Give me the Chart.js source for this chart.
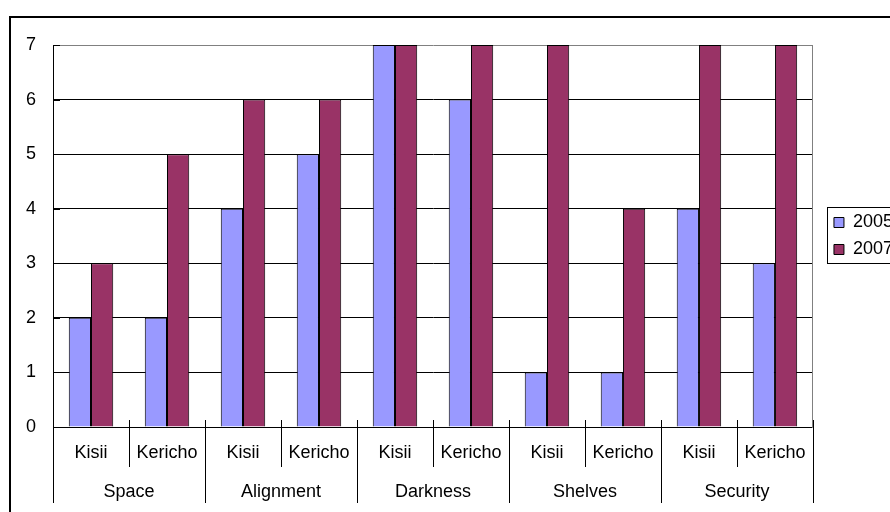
<!DOCTYPE html>
<html><head><meta charset="utf-8">
<script src="https://cdn.jsdelivr.net/npm/chart.js@4"></script>
<style>
html,body{margin:0;padding:0;overflow:hidden;background:#fff;width:890px;height:512px}
#frame{position:absolute;left:9px;top:16px;width:1000px;height:600px;border:2px solid #000;box-sizing:border-box}
#wrap{position:absolute;left:0;top:0;width:903px;height:512px}
</style></head><body>
<div id="frame"></div>
<div id="wrap"><canvas id="c"></canvas></div>
<script>
const subCategories = ['Kisii','Kericho','Kisii','Kericho','Kisii','Kericho','Kisii','Kericho','Kisii','Kericho'];
const groups = ['Space','Alignment','Darkness','Shelves','Security'];
const seriesNames = ['2005','2007'];
const values2005 = [2,2,4,5,7,6,1,1,4,3];
const values2007 = [3,5,6,6,7,7,7,4,7,7];
const yTicks = [0,1,2,3,4,5,6,7];

const F = "'Liberation Sans', Arial, sans-serif";
const FS = 18;

const decor = {
  id: 'decor',
  afterDraw(chart) {
    const ctx = chart.ctx, x = chart.scales.x, x2 = chart.scales.x2, y = chart.scales.y, ca = chart.chartArea;
    ctx.save();
    ctx.strokeStyle = '#000';
    ctx.lineWidth = 1;
    ctx.beginPath();
    // sub-category separators (cross ticks)
    for (let i = 0; i <= subCategories.length; i++) {
      const px = Math.round(x.getPixelForValue(i - 0.5)) + 0.5;
      ctx.moveTo(px, ca.bottom - 7);
      ctx.lineTo(px, ca.bottom + 40);
    }
    // group separators
    for (let j = 0; j <= groups.length; j++) {
      const px = Math.round(x2.getPixelForValue(j - 0.5)) + 0.5;
      ctx.moveTo(px, ca.bottom);
      ctx.lineTo(px, ca.bottom + 76);
    }
    // inside ticks on value axis
    yTicks.forEach(v => {
      const py = Math.round(y.getPixelForValue(v)) + 0.5;
      ctx.moveTo(ca.left, py);
      ctx.lineTo(ca.left + 7, py);
    });
    ctx.stroke();
    // legend frame
    const hb = chart.legend.legendHitBoxes;
    if (hb && hb.length) {
      const first = hb[0], last = hb[hb.length - 1];
      const l = Math.round(first.left - 7) + 0.5;
      const t = Math.round(first.top - 7) + 0.5;
      const b = Math.round(last.top + last.height + 4) + 0.5;
      ctx.strokeRect(l, t, 200, b - t);
    }
    ctx.restore();
  }
};

new Chart(document.getElementById('c'), {
  type: 'bar',
  data: {
    labels: subCategories,
    datasets: [
      { label: seriesNames[0], data: values2005, backgroundColor: '#9999FF', borderColor: '#000', borderWidth: 1, xAxisID: 'x', yAxisID: 'y' },
      { label: seriesNames[1], data: values2007, backgroundColor: '#993366', borderColor: '#000', borderWidth: 1, xAxisID: 'x', yAxisID: 'y' }
    ]
  },
  options: {
    responsive: true,
    maintainAspectRatio: false,
    animation: false,
    devicePixelRatio: 1,
    datasets: { bar: { categoryPercentage: 0.585, barPercentage: 1 } },
    layout: { padding: { left: 9, top: 45, right: 0, bottom: 7 } },
    plugins: {
      tooltip: { enabled: false },
      legend: {
        position: 'right',
        fullSize: false,
        labels: { boxWidth: 10, boxHeight: 10, padding: 9, color: '#000', font: { size: FS, family: F } }
      }
    },
    scales: {
      x: {
        type: 'category', position: 'bottom', weight: 1, offset: true,
        grid: { drawOnChartArea: false, drawTicks: false },
        border: { color: '#000' },
        ticks: { padding: 15.2, color: '#000', font: { size: FS, family: F }, autoSkip: false, maxRotation: 0 }
      },
      x2: {
        type: 'category', position: 'bottom', weight: 2, offset: true, labels: groups,
        grid: { display: false, drawTicks: false },
        border: { display: false },
        ticks: { padding: 2.2, color: '#000', font: { size: FS, family: F }, autoSkip: false, maxRotation: 0 }
      },
      y: {
        position: 'left', min: 0, max: 7,
        afterBuildTicks: s => { s.ticks = yTicks.map(v => ({ value: v })); },
        grid: { drawTicks: false, color: c => (c.tick && c.tick.value === 7 ? '#808080' : '#000') },
        border: { color: '#000' },
        ticks: { padding: 17, color: '#000', font: { size: FS, family: F } }
      },
      yR: {
        position: 'right', display: true, min: 0, max: 1,
        grid: { drawOnChartArea: false, drawTicks: false },
        border: { color: '#808080' },
        ticks: { display: false },
        afterFit: s => { s.width = 12; }
      }
    }
  },
  plugins: [decor]
});
</script>
</body></html>
